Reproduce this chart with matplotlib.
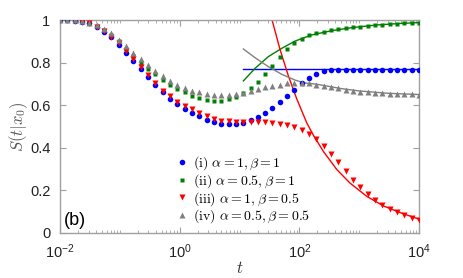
import matplotlib
matplotlib.use('Agg')
import matplotlib.pyplot as plt
import numpy as np
from matplotlib.ticker import LogLocator, NullFormatter

plt.rcParams['font.family'] = ['Liberation Sans', 'DejaVu Sans']
plt.rcParams['mathtext.fontset'] = 'cm'

# time grid: 50 points evenly spaced in log t from 1e-2 to 1e4
t = np.logspace(-2, 4, 50)

# simulated survival probabilities
s_i = [1.0, 1.0, 0.997, 0.992, 0.984, 0.968, 0.946, 0.918, 0.884, 0.846,
       0.808, 0.772, 0.734, 0.696, 0.661, 0.630, 0.604, 0.582, 0.564, 0.548,
       0.532, 0.521, 0.513, 0.510, 0.512, 0.518, 0.529, 0.543, 0.563, 0.587,
       0.613, 0.641, 0.671, 0.702, 0.729, 0.748, 0.759, 0.764, 0.766, 0.767,
       0.767, 0.767, 0.767, 0.767, 0.767, 0.767, 0.767, 0.767, 0.767, 0.767]
s_ii = [1.0, 1.0, 0.998, 0.994, 0.986, 0.973, 0.953, 0.930, 0.900, 0.866,
        0.833, 0.800, 0.772, 0.745, 0.720, 0.696, 0.676, 0.660, 0.645, 0.632,
        0.624, 0.620, 0.620, 0.627, 0.637, 0.656, 0.679, 0.710, 0.745, 0.784,
        0.825, 0.862, 0.890, 0.913, 0.928, 0.938, 0.945, 0.951, 0.956, 0.961,
        0.965, 0.969, 0.972, 0.975, 0.978, 0.980, 0.983, 0.985, 0.986, 0.987]
s_iii = [1.0, 1.0, 0.997, 0.992, 0.984, 0.969, 0.948, 0.922, 0.890, 0.853,
         0.816, 0.779, 0.740, 0.704, 0.669, 0.641, 0.617, 0.597, 0.580, 0.565,
         0.548, 0.536, 0.528, 0.524, 0.522, 0.522, 0.522, 0.521, 0.520, 0.518,
         0.514, 0.507, 0.497, 0.484, 0.465, 0.441, 0.408, 0.372, 0.333, 0.293,
         0.250, 0.214, 0.183, 0.153, 0.130, 0.111, 0.097, 0.083, 0.070, 0.062]
s_iv = [1.0, 1.0, 0.998, 0.994, 0.987, 0.976, 0.958, 0.937, 0.907, 0.876,
        0.845, 0.815, 0.789, 0.762, 0.736, 0.714, 0.696, 0.681, 0.669, 0.660,
        0.654, 0.650, 0.649, 0.650, 0.652, 0.659, 0.668, 0.678, 0.685, 0.691,
        0.697, 0.702, 0.704, 0.705, 0.703, 0.697, 0.691, 0.685, 0.679, 0.672,
        0.667, 0.663, 0.660, 0.657, 0.656, 0.654, 0.653, 0.652, 0.651, 0.649]

# long-time asymptotes
t_a1 = [11.6, 1e4]
a1 = [0.77, 0.77]
t_a2 = [11.6, 18.2, 30.3, 50.8, 84.7, 161, 348, 750, 2000, 5000, 1e4]
a2 = [0.714, 0.773, 0.828, 0.867, 0.901, 0.930, 0.950, 0.964, 0.977, 0.984, 0.988]
t_a3 = [35, 47.5, 65.5, 90.4, 133, 171, 252, 422, 704, 1337, 2535, 5470, 1e4]
a3 = [1.0, 0.862, 0.738, 0.630, 0.517, 0.460, 0.383, 0.298, 0.234, 0.172, 0.127, 0.090, 0.065]
t_a4 = [11.6, 18.2, 30.3, 50.8, 84.7, 120, 200, 500, 1000, 3000, 1e4]
a4 = [0.864, 0.823, 0.781, 0.745, 0.718, 0.705, 0.698, 0.678, 0.667, 0.656, 0.650]

labels = [r'$\mathrm{(i)}\ \alpha=1,\beta=1$',
          r'$\mathrm{(ii)}\ \alpha=0.5,\beta=1$',
          r'$\mathrm{(iii)}\ \alpha=1,\beta=0.5$',
          r'$\mathrm{(iv)}\ \alpha=0.5,\beta=0.5$']

blue, green, red, gray = '#0000ff', '#008000', '#ff0000', '#808080'

fig = plt.figure(figsize=(4.63, 2.78), dpi=100)
ax = fig.add_axes([0.1296, 0.162, 0.7754, 0.766])

# asymptote lines
ax.plot(t_a1, a1, color=blue, lw=1.0, zorder=2)
ax.plot(t_a2, a2, color=green, lw=1.0, zorder=2)
ax.plot(t_a3, a3, color=red, lw=1.0, zorder=2)
ax.plot(t_a4, a4, color=gray, lw=1.0, zorder=2)

# simulation markers
ax.plot(t, s_i, 'o', color=blue, ms=4.0, mec='none', label=labels[0], zorder=3)
ax.plot(t, s_ii, 's', color=green, ms=3.4, mec='none', label=labels[1], zorder=3)
ax.plot(t, s_iii, 'v', color=red, ms=4.3, mec='none', label=labels[2], zorder=3)
ax.plot(t, s_iv, '^', color=gray, ms=4.3, mec='none', label=labels[3], zorder=3)

ax.set_xscale('log')
ax.set_xlim(1e-2, 1e4)
ax.set_ylim(0, 1)

ax.set_xticks([1e-2, 1, 1e2, 1e4])
ax.set_xticklabels([r'$\mathregular{10^{-2}}$', r'$\mathregular{10^{0}}$',
                    r'$\mathregular{10^{2}}$', r'$\mathregular{10^{4}}$'])
ax.xaxis.set_minor_locator(LogLocator(base=10, subs=np.arange(1, 10), numticks=100))
ax.xaxis.set_minor_formatter(NullFormatter())
ax.set_yticks([0, 0.2, 0.4, 0.6, 0.8, 1.0])
ax.set_yticklabels(['0', '0.2', '0.4', '0.6', '0.8', '1'])

ax.tick_params(which='both', direction='in', top=True, right=True,
               colors='#a0a0a0', labelcolor='#222222', labelsize=10.5)
ax.tick_params(which='major', length=4, width=0.8)
ax.tick_params(which='minor', length=2, width=0.6)
ax.tick_params(axis='x', which='major', pad=7)
ax.tick_params(axis='y', which='major', pad=7)
for sp in ax.spines.values():
    sp.set_color('#a0a0a0')
    sp.set_linewidth(1.0)

ax.set_xlabel(r'$t$', fontsize=12, labelpad=-1, color='#333333')
ax.set_ylabel(r'$S(t|x_0)$', fontsize=12, labelpad=0, color='#555555')

ax.legend(loc='lower left', bbox_to_anchor=(0.29, -0.01), frameon=False,
          fontsize=10, handletextpad=0.2, handlelength=1.2, labelspacing=0.0,
          borderaxespad=0.3)

ax.text(0.01, 0.02, '(b)', transform=ax.transAxes, fontsize=13, ha='left', va='bottom')

fig.savefig('out.png', dpi=100)
